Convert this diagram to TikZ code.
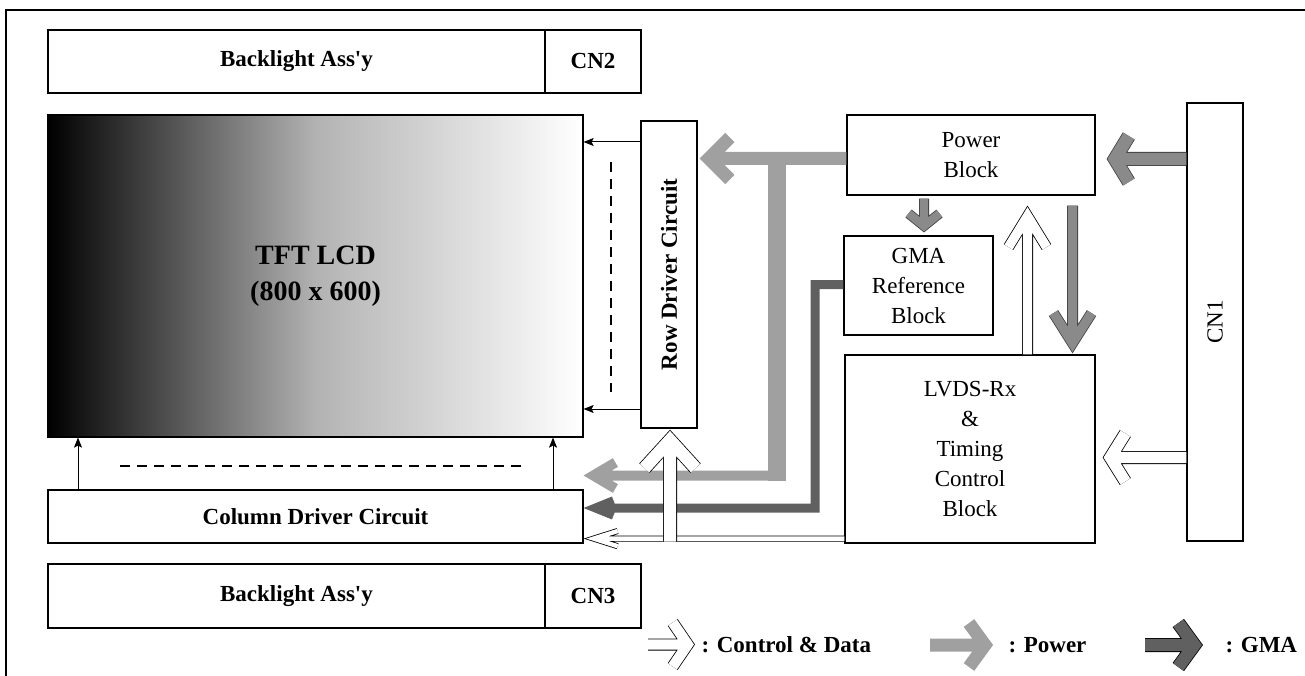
\documentclass[tikz,border=0pt]{standalone}
\usepackage{fontspec}
\setmainfont{Liberation Serif}
\usepackage{graphicx}
\usetikzlibrary{calc,arrows.meta}

\definecolor{pwrgray}{HTML}{A0A0A0}
\definecolor{midgray}{HTML}{8A8A8A}
\definecolor{gmagray}{HTML}{606060}

% block arrow: style, path before last leg, start of last leg, tip, tip inset, head length, half spread
\newcommand{\fatarrow}[7]{%
  \path ($(#4)!#5!(#3)$) coordinate (fa-c) ($(#4)!#5+#6!(#3)$) coordinate (fa-b);
  \draw[#1] #2 (#3) -- (fa-c) ($(fa-b)!#7!90:(#3)$) -- (fa-c) -- ($(fa-b)!#7!-90:(#3)$);}

\begin{document}
\begin{tikzpicture}[
    x=1pt, y=-1pt,
    box/.style={
        draw,
        line width=1.2pt,
        inner sep=0pt,
        align=center,
        font=\fontsize{23}{30}\selectfont
    },
    bbox/.style={box, font=\fontsize{23}{30}\selectfont\bfseries},
    thinarr/.style={-{Stealth[length=10pt,width=8pt,inset=2pt]}, line width=1pt},
    dashline/.style={line width=1.6pt, dash pattern=on 10pt off 7pt},
    pwr/.style={draw=pwrgray, line join=miter},
    gmal/.style={draw=gmagray, line width=9pt, line join=miter},
    hollow/.style={draw=black, line width=0.8pt, double=white, line join=miter},
    greyarr/.style={draw=black!75, line width=0.8pt, double=midgray, line join=miter},
    keytext/.style={anchor=west, font=\fontsize{23}{28}\selectfont\bfseries}
]
\useasboundingbox (0,0) rectangle (1305,676);
\draw[line width=2pt] (6,676) -- (6,10) -- (1305,10);

% backlights
\node[bbox, minimum width=497pt, minimum height=63pt] (bltop) at (296.5,61.5) {Backlight Ass\textquotesingle y};
\node[bbox, minimum width=96pt, minimum height=63pt] (cntwo) at (593,61.5) {CN2};
\node[bbox, minimum width=497pt, minimum height=64pt] (blbot) at (296.5,596) {Backlight Ass\textquotesingle y};
\node[bbox, minimum width=96pt, minimum height=64pt] (cnthree) at (593,596) {CN3};

% panel and drivers
\node[bbox, minimum width=535pt, minimum height=322pt,
    left color=black, right color=white, middle color=black!30,
    font=\fontsize{28}{36}\selectfont\bfseries] (lcd) at (315.5,276) {TFT LCD\\(800 x 600)};
\node[bbox, minimum width=56pt, minimum height=307pt] (rowdrv) at (669,274.5)
    {\rotatebox{90}{Row Driver Circuit}};
\node[bbox, minimum width=535pt, minimum height=53pt] (coldrv) at (315.5,516.5)
    {Column Driver Circuit};

% control board
\node[box, minimum width=248pt, minimum height=80pt] (power) at (971,155) {Power\\Block};
\node[box, minimum width=149pt, minimum height=99pt] (gmaref) at (918.5,285.5)
    {GMA\\Reference\\Block};
\node[box, minimum width=250pt, minimum height=188pt] (lvds) at (970,449)
    {LVDS-Rx\\\&\\Timing\\Control\\Block};
\node[box, minimum width=56pt, minimum height=438pt] (cnone) at (1215,322) {\rotatebox{90}{CN1}};

% driver outputs
\draw[thinarr] (rowdrv.west |- 0,142) -- (lcd.east |- 0,142);
\draw[thinarr] (rowdrv.west |- 0,409) -- (lcd.east |- 0,409);
\draw[thinarr] (coldrv.north west -| 78,0) -- (lcd.south -| 78,0);
\draw[thinarr] (coldrv.north west -| 553,0) -- (lcd.south -| 553,0);
\draw[dashline] (611,162) -- (611,392);
\draw[dashline] (120,466) -- (522,466);

% power lines
\coordinate (pw-l) at ($(power.west)+(0,3.5)$);
\coordinate (rd-r) at ($(rowdrv.east |- pw-l)+(2,0)$);
\fatarrow{pwr, line width=13pt}{}{pw-l}{rd-r}{9.2pt}{21pt}{21pt}
\coordinate (br-t) at (777,152);
\coordinate (br-b) at (777,480.5);
\draw[pwr, line width=18pt] (br-t) -- (br-b);
\coordinate (br-l) at (777,475.5);
\coordinate (cd-p) at (coldrv.east |- br-l);
\fatarrow{pwr, line width=10pt}{}{br-l}{cd-p}{9.8pt}{22pt}{13pt}

% gamma reference
\coordinate (gm-l) at ($(gmaref.west)+(0,-1)$);
\coordinate (gm-c) at (815,508);
\coordinate (cd-g) at (coldrv.east |- gm-c);
\fatarrow{gmal}{(gm-l) -|}{gm-c}{cd-g}{12pt}{18pt}{7.3pt}

% control and data
\coordinate (lv-b) at ($(lvds.south west)+(0,-5)$);
\coordinate (cd-c) at (coldrv.east |- lv-b);
\fatarrow{hollow, double distance=4.4pt}{}{lv-b}{cd-c}{10pt}{24pt}{7.6pt}
\coordinate (rd-b) at ($(rowdrv.south)+(1,1)$);
\coordinate (rd-s) at ($(rd-b |- lv-b)+(0,3)$);
\fatarrow{hollow, double distance=12.4pt}{}{rd-s}{rd-b}{10.5pt}{28pt}{25.5pt}
\coordinate (lv-t) at ($(lvds.north)+(57.5,0)$);
\coordinate (pw-b) at ($(power.south -| lv-t)+(0,10)$);
\fatarrow{hollow, double distance=9.4pt}{}{lv-t}{pw-b}{10.5pt}{31pt}{19pt}
\coordinate (cn-l) at (cnone.west |- 0,457.5);
\coordinate (lv-r) at ($(lvds.east |- cn-l)+(7,0)$);
\fatarrow{hollow, double distance=11.4pt}{}{cn-l}{lv-r}{7.7pt}{15pt}{24pt}

% supply inside the board
\coordinate (pw-d) at ($(power.south)+(101.5,10)$);
\coordinate (lv-d) at ($(lvds.north -| pw-d)+(0,-1)$);
\fatarrow{greyarr, double distance=9.4pt}{}{pw-d}{lv-d}{10.3pt}{30pt}{19pt}
\coordinate (pw-g) at ($(power.south)+(-47,3)$);
\coordinate (gm-t) at ($(gmaref.north -| pw-g)+(0,-3)$);
\fatarrow{greyarr, double distance=8.4pt}{}{pw-g}{gm-t}{6.4pt}{12.5pt}{15.5pt}
\coordinate (cn-p) at (cnone.west |- 0,159);
\coordinate (pw-r) at ($(power.east |- cn-p)+(11,0)$);
\fatarrow{greyarr, double distance=12.4pt}{}{cn-p}{pw-r}{8.2pt}{14pt}{23pt}

% legend
\coordinate (k1) at (648,644.5);
\coordinate (k1t) at (695,644.5);
\fatarrow{hollow, double distance=10.4pt}{}{k1}{k1t}{7.3pt}{15pt}{22pt}
\node[keytext] (kctl) at (698,645) {: Control \& Data};
\coordinate (k2) at (930,645);
\coordinate (k2t) at (993,645);
\fatarrow{pwr, line width=13pt}{}{k2}{k2t}{8pt}{16pt}{22pt}
\node[keytext] (kpwr) at (1005,645) {: Power};
\coordinate (k3) at (1145,645);
\coordinate (k3t) at (1203,645);
\fatarrow{draw=black, line width=0.8pt, double=gmagray, double distance=12.4pt, line join=miter}{}{k3}{k3t}{8.7pt}{16pt}{22pt}
\node[keytext] (kgma) at (1222,645) {: GMA};
\end{tikzpicture}
\end{document}
